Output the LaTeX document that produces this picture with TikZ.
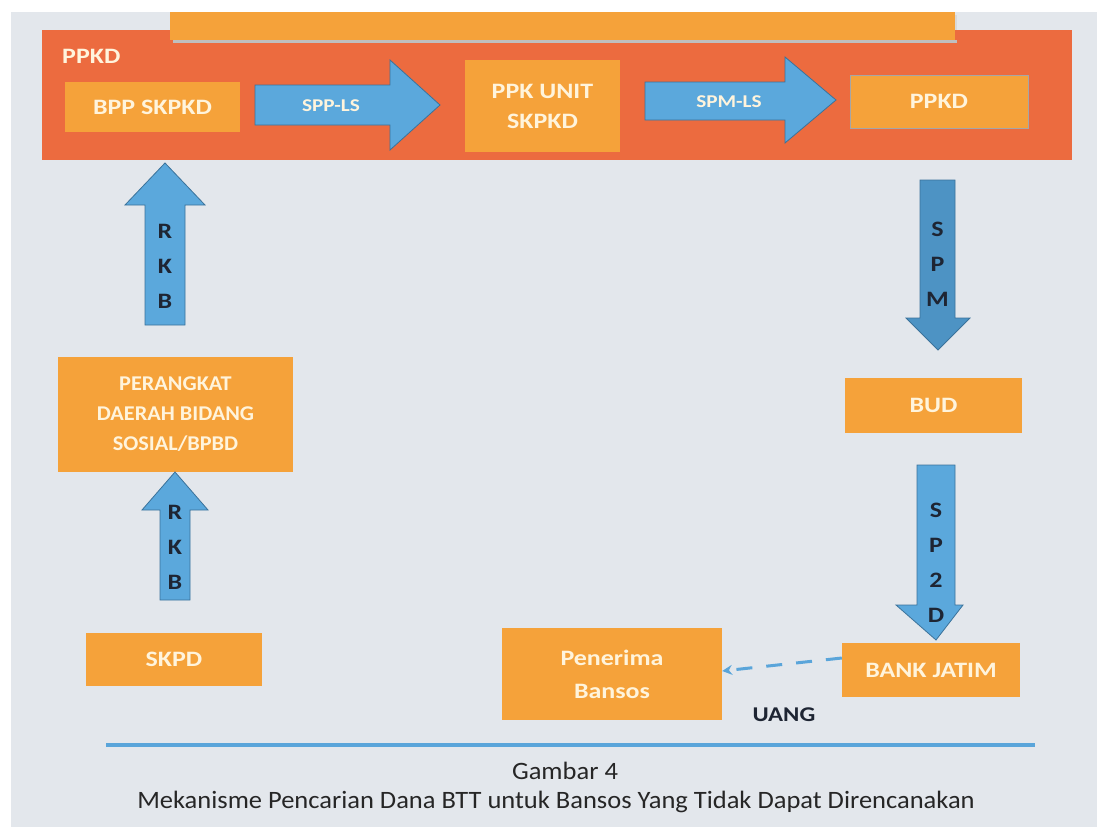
\documentclass[tikz,border=0pt]{standalone}
\usepackage{fontspec}
\setmainfont{Carlito}
\newfontfamily\cf[FakeStretch=1.18]{Carlito}
\newfontfamily\cfcap[FakeStretch=1.06]{Carlito}
\usetikzlibrary{arrows.meta}
\definecolor{bggray}{HTML}{E3E7EC}
\definecolor{boxor}{HTML}{F5A23A}
\definecolor{band}{HTML}{EC6B3F}
\definecolor{arrblue}{HTML}{5BA8DC}
\definecolor{arrdark}{HTML}{4A8FC0}
\definecolor{boxtxt}{HTML}{FFF4DC}
\definecolor{darktxt}{HTML}{1E2533}
\definecolor{linblue}{HTML}{5AA5DA}
\definecolor{captxt}{HTML}{262626}
\tikzset{
  obox/.style={fill=boxor, text=boxtxt, font=\cf\fontsize{22}{30}\selectfont\bfseries, align=center, inner sep=0pt},
  blockarrow/.style={fill=arrblue, draw=arrdark!80!black, line width=0.8pt},
  arrlbl/.style={text=darktxt, font=\cf\fontsize{22}{35}\selectfont\bfseries, align=center, inner sep=0pt},
  hlbl/.style={text=boxtxt, font=\cf\fontsize{18}{20}\selectfont\bfseries, inner sep=0pt}
}
\begin{document}
\begin{tikzpicture}[x=1pt,y=-1pt]
\useasboundingbox (0,0) rectangle (1097,827);
\fill[white] (0,0) rectangle (1097,827);
\fill[bggray] (11,12) rectangle (1097,827);
% top bar and band
\fill[black!15] (173,15) rectangle (957,43);
\fill[band] (42,30) rectangle (1072,160);
\fill[black!25] (173,40) rectangle (957,43);
\fill[boxor] (170,12) rectangle (955,40);
\node[text=boxtxt, font=\cf\fontsize{22}{24}\selectfont\bfseries, anchor=west, inner sep=0pt] (lblppkd) at (62,56) {PPKD};
% top boxes
\node[obox, minimum width=175pt, minimum height=50pt] (bpp) at (152.5,107) {BPP SKPKD};
\node[obox, minimum width=155pt, minimum height=92pt] (ppk) at (542.5,106) {PPK UNIT\\SKPKD};
\node[obox, draw=gray!70, line width=1pt, minimum width=178pt, minimum height=53pt] (ppkd) at (939,101.5) {PPKD};
% horizontal block arrows
\fill[blockarrow] (255,85) -- (390,85) -- (390,60) -- (440,105) -- (390,150) -- (390,125) -- (255,125) -- cycle;
\node[hlbl] (spp) at (331,106) {SPP-LS};
\fill[blockarrow] (645,82) -- (785,82) -- (785,57) -- (836,100) -- (785,143) -- (785,120) -- (645,120) -- cycle;
\node[hlbl] (spm) at (729,102) {SPM-LS};
% left column
\node[obox, minimum width=235pt, minimum height=115pt, font=\cfcap\fontsize{21}{30}\selectfont\bfseries] (perangkat) at (175.5,414.5) {PERANGKAT\\DAERAH BIDANG\\SOSIAL/BPBD};
\node[obox, minimum width=176pt, minimum height=53pt] (skpd) at (174,659.5) {SKPD};
\fill[blockarrow] (145,325) -- (145,205) -- (125,205) -- (165,163) -- (205,205) -- (185,205) -- (185,325) -- cycle;
\node[arrlbl] (rkb1) at (165,266) {R\\K\\B};
\fill[blockarrow] (160,600) -- (160,510) -- (142,510) -- (175,472) -- (208,510) -- (190,510) -- (190,600) -- cycle;
\node[arrlbl] (rkb2) at (175,547) {R\\K\\B};
% right column
\node[obox, minimum width=177pt, minimum height=55pt] (bud) at (933.5,405.5) {BUD};
\node[obox, minimum width=178pt, minimum height=54pt] (bank) at (931,670) {BANK JATIM};
\node[obox, minimum width=220pt, minimum height=92pt, font=\cf\fontsize{22}{33}\selectfont\bfseries] (penerima) at (612,674) {Penerima\\Bansos};
\fill[blockarrow, fill=arrdark!85!arrblue] (920,180) -- (955,180) -- (955,318) -- (970,318) -- (938,350) -- (906,318) -- (920,318) -- cycle;
\node[arrlbl] (spmv) at (937.5,264) {S\\P\\M};
\fill[blockarrow] (917,465) -- (955,465) -- (955,605) -- (963,605) -- (936,640) -- (896,605) -- (917,605) -- cycle;
\node[arrlbl] (sp2d) at (936,563) {S\\P\\2\\D};
% dashed money arrow
\draw[linblue, line width=3pt, dash pattern=on 16pt off 14pt, -{Stealth[length=10pt,width=10pt]}] ([yshift=12pt]bank.west) -- ([yshift=3pt]penerima.east);
\node[text=darktxt, font=\cf\fontsize{21}{24}\selectfont\bfseries, inner sep=0pt] (uang) at (784,715) {UANG};
% caption
\draw[linblue, line width=4pt] (106,745) coordinate (capl) -- (1035,745) coordinate (capr);
\node[text=captxt, font=\cfcap\fontsize{25}{28}\selectfont, inner sep=0pt] (gambar) at (565,771) {Gambar 4};
\node[text=captxt, font=\cfcap\fontsize{25}{28}\selectfont, inner sep=0pt] (caption) at (556,802) {Mekanisme Pencarian Dana BTT untuk Bansos Yang Tidak Dapat Direncanakan};
\end{tikzpicture}
\end{document}
